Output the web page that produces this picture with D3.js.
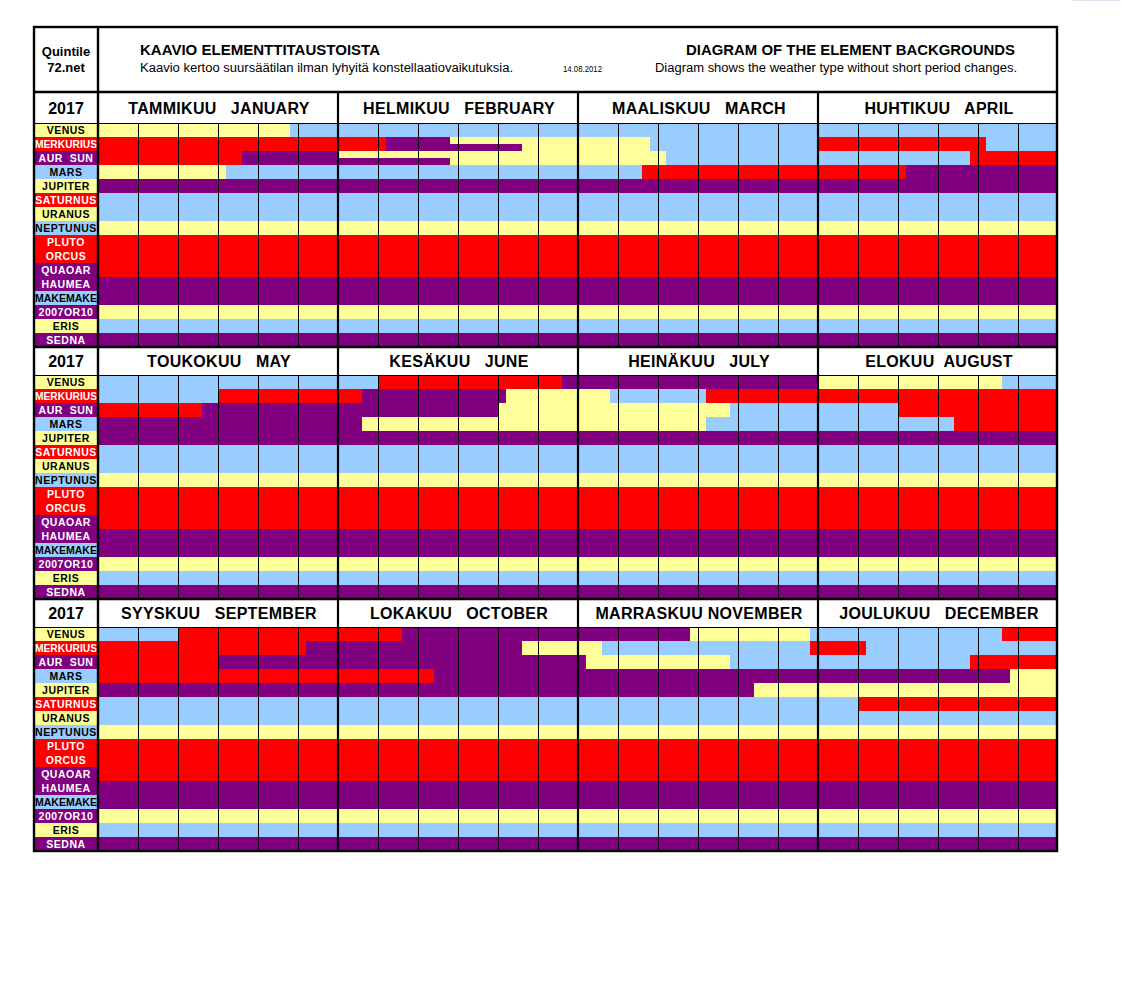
<!DOCTYPE html>
<html>
<head>
<meta charset="utf-8">
<script src="https://cdn.jsdelivr.net/npm/d3@7"></script>
<style>
  body { margin: 0; background: #fff; }
  svg { display: block; }
  text { font-family: "Liberation Sans", Arial, sans-serif; }
</style>
</head>
<body>
<svg id="chart" width="1122" height="1000"></svg>
<script>
// rows of the diagram
const planets = ['VENUS', 'MERKURIUS', 'AUR  SUN', 'MARS', 'JUPITER', 'SATURNUS', 'URANUS', 'NEPTUNUS',
    'PLUTO', 'ORCUS', 'QUAOAR', 'HAUMEA', 'MAKEMAKE', '2007OR10', 'ERIS', 'SEDNA'];
const planetElement = ['earth', 'fire', 'water', 'air', 'earth', 'fire', 'earth', 'air',
    'fire', 'fire', 'water', 'water', 'air', 'water', 'earth', 'water'];
const monthLabels = ['TAMMIKUU   JANUARY', 'HELMIKUU   FEBRUARY', 'MAALISKUU   MARCH', 'HUHTIKUU   APRIL',
    'TOUKOKUU   MAY', 'KESÄKUU   JUNE', 'HEINÄKUU   JULY', 'ELOKUU  AUGUST',
    'SYYSKUU   SEPTEMBER', 'LOKAKUU   OCTOBER', 'MARRASKUU NOVEMBER', 'JOULUKUU   DECEMBER'];
const yearLabel = '2017';

// element changes per planet: [month index, day of month (0-30), element from then on]
const venus = [[0, 0, 'earth'], [0, 24, 'air'], [5, 5, 'fire'], [5, 28, 'water'], [7, 0, 'earth'], [7, 23, 'air'],
    [8, 10, 'fire'], [9, 8, 'water'], [10, 14, 'earth'], [10, 29, 'air'], [11, 23, 'fire']];
const merkurius = [[0, 0, 'fire'], [1, 6, 'water'], [1, 14, 'earth'], [2, 9, 'air'], [3, 0, 'fire'], [3, 21, 'air'],
    [4, 15, 'fire'], [5, 3, 'water'], [5, 21, 'earth'], [6, 4, 'air'], [6, 16, 'fire'],
    [8, 26, 'water'], [9, 23, 'earth'], [10, 3, 'air'], [10, 29, 'fire'], [11, 6, 'air']];
const aurSun = [[0, 0, 'fire'], [0, 18, 'water'], [1, 0, 'earth'], [2, 11, 'air'], [3, 19, 'fire'],
    [4, 13, 'water'], [5, 20, 'earth'], [6, 19, 'air'], [7, 10, 'fire'],
    [8, 15, 'water'], [10, 1, 'earth'], [10, 19, 'air'], [11, 19, 'fire']];
const mars = [[0, 0, 'earth'], [0, 16, 'air'], [2, 8, 'fire'], [3, 11, 'water'], [5, 3, 'earth'], [6, 16, 'air'],
    [7, 17, 'fire'], [9, 12, 'water'], [11, 24, 'earth']];
const jupiter = [[0, 0, 'water'], [10, 22, 'earth']];
const saturnus = [[0, 0, 'air'], [11, 5, 'fire']];
const uranus = [[0, 0, 'air']];
const neptunus = [[0, 0, 'earth']];
const pluto = [[0, 0, 'fire']];
const orcus = [[0, 0, 'fire']];
const quaoar = [[0, 0, 'fire']];
const haumea = [[0, 0, 'water']];
const makemake = [[0, 0, 'water']];
const or10 = [[0, 0, 'earth']];
const eris = [[0, 0, 'air']];
const sedna = [[0, 0, 'water']];
const changes = [venus, merkurius, aurSun, mars, jupiter, saturnus, uranus, neptunus,
    pluto, orcus, quaoar, haumea, makemake, or10, eris, sedna];

// half-row exceptions (lower half of the row): planet, from [m, d], to [m, d], element
const lowerHalf = [['MERKURIUS', [1, 14], [1, 23], 'water'], ['AUR  SUN', [1, 0], [1, 14], 'water']];

const color = d3.scaleOrdinal()
    .domain(['earth', 'air', 'fire', 'water'])
    .range(['#FFFF99', '#99CCFF', '#FF0000', '#800080']);
const textColor = el => (el === 'fire' || el === 'water') ? '#fff' : '#000';

const svg = d3.select('#chart');
const left = 34, labelRight = 98, right = 1058, rowH = 14;
const blocks = [{top: 92, head: 31}, {top: 347, head: 28}, {top: 599, head: 28}];

const pos = (m, d) => m + d / 30;

// change lists -> segments
const segments = [];
changes.forEach((list, i) => {
    list.forEach((c, j) => {
        const next = list[j + 1];
        segments.push({
            planet: planets[i],
            from: pos(c[0], c[1]),
            to: next ? pos(next[0], next[1]) : 12,
            el: c[2],
            half: false
        });
    });
});
lowerHalf.forEach(h => segments.push({
    planet: h[0], from: pos(h[1][0], h[1][1]), to: pos(h[2][0], h[2][1]), el: h[3], half: true
}));

// top header
svg.append('rect').attr('x', 1073).attr('y', 0).attr('width', 48).attr('height', 1).attr('fill', '#dce6f2');
const head = svg.append('g');
head.append('rect').attr('x', left).attr('y', 27).attr('width', right - left - 1).attr('height', 65).attr('fill', '#fff');
head.append('text').attr('x', 66).attr('y', 56).attr('text-anchor', 'middle')
    .style('font-weight', 'bold').style('font-size', '13px').text('Quintile');
head.append('text').attr('x', 66).attr('y', 72).attr('text-anchor', 'middle')
    .style('font-weight', 'bold').style('font-size', '13px').text('72.net');
head.append('text').attr('x', 140).attr('y', 55)
    .style('font-weight', 'bold').style('font-size', '14px')
    .attr('textLength', 240).attr('lengthAdjust', 'spacingAndGlyphs')
    .text('KAAVIO ELEMENTTITAUSTOISTA');
head.append('text').attr('x', 140).attr('y', 72).style('font-size', '12px')
    .attr('textLength', 373).attr('lengthAdjust', 'spacingAndGlyphs')
    .text('Kaavio kertoo suursäätilan ilman lyhyitä konstellaatiovaikutuksia.');
head.append('text').attr('x', 563).attr('y', 72).style('font-size', '9px')
    .attr('textLength', 39).attr('lengthAdjust', 'spacingAndGlyphs').text('14.08.2012');
head.append('text').attr('x', 686).attr('y', 55)
    .style('font-weight', 'bold').style('font-size', '14px')
    .attr('textLength', 329).attr('lengthAdjust', 'spacingAndGlyphs')
    .text('DIAGRAM OF THE ELEMENT BACKGROUNDS');
head.append('text').attr('x', 655).attr('y', 72).style('font-size', '12px')
    .attr('textLength', 362).attr('lengthAdjust', 'spacingAndGlyphs')
    .text('Diagram shows the weather type without short period changes.');

blocks.forEach((b, bi) => {
    const rowTop = b.top + b.head;
    const x = d3.scaleLinear().domain([bi * 4, bi * 4 + 4]).range([labelRight, right]);
    const y = d3.scaleBand().domain(planets).range([rowTop, rowTop + planets.length * rowH]);
    const g = svg.append('g');

    // month header cells
    const months = d3.range(bi * 4, bi * 4 + 4);
    g.append('rect').attr('x', left).attr('y', b.top).attr('width', right - left).attr('height', b.head).attr('fill', '#fff');
    g.append('text').attr('x', (left + labelRight) / 2).attr('y', b.top + b.head / 2 + 6)
        .attr('text-anchor', 'middle').style('font-weight', 'bold').style('font-size', '16px').text(yearLabel);
    g.selectAll('.mlabel').data(months).join('text')
        .attr('x', m => x(m + 0.5) + 1).attr('y', b.top + b.head / 2 + 6)
        .attr('text-anchor', 'middle').style('font-weight', 'bold').style('font-size', '16px')
        .style('letter-spacing', '0.3px').style('white-space', 'pre')
        .text(m => monthLabels[m]);

    // element bars
    const blockSegs = segments
        .map(s => Object.assign({}, s, {a: Math.max(s.from, bi * 4), c: Math.min(s.to, bi * 4 + 4)}))
        .filter(s => s.c > s.a);
    g.selectAll('.seg').data(blockSegs.filter(s => !s.half)).join('rect')
        .attr('x', s => x(s.a)).attr('width', s => x(s.c) - x(s.a))
        .attr('y', s => y(s.planet)).attr('height', y.bandwidth())
        .attr('fill', s => color(s.el));
    g.selectAll('.half').data(blockSegs.filter(s => s.half)).join('rect')
        .attr('x', s => x(s.a)).attr('width', s => x(s.c) - x(s.a))
        .attr('y', s => y(s.planet) + y.bandwidth() / 2).attr('height', y.bandwidth() / 2)
        .attr('fill', s => color(s.el));

    // planet labels
    g.selectAll('.lab').data(planets).join('rect')
        .attr('x', left).attr('width', labelRight - left)
        .attr('y', p => y(p)).attr('height', y.bandwidth())
        .attr('fill', (p, i) => color(planetElement[i]));
    g.selectAll('.labt').data(planets).join('text')
        .attr('x', (left + labelRight) / 2).attr('y', p => y(p) + y.bandwidth() / 2 + 3.8)
        .attr('text-anchor', 'middle')
        .style('font-weight', 'bold').style('font-size', '10.5px').style('letter-spacing', '0.5px')
        .style('white-space', 'pre')
        .attr('fill', (p, i) => textColor(planetElement[i]))
        .text(p => p)
        .each(function () {
            if (this.getComputedTextLength() > 62) {
                d3.select(this).style('letter-spacing', null)
                    .attr('textLength', 62).attr('lengthAdjust', 'spacingAndGlyphs');
            }
        });

    // grid: thin lines every 5 days, thick at month boundaries
    const thin = d3.range(1, 24).filter(k => k % 6 !== 0).map(k => bi * 4 + k / 6);
    g.selectAll('.thin').data(thin).join('line')
        .attr('x1', v => x(v)).attr('x2', v => x(v))
        .attr('y1', rowTop).attr('y2', rowTop + planets.length * rowH)
        .attr('stroke', '#000').attr('stroke-width', 1).attr('shape-rendering', 'crispEdges');
    g.selectAll('.thick').data(d3.range(bi * 4 + 1, bi * 4 + 4)).join('line')
        .attr('x1', v => x(v)).attr('x2', v => x(v))
        .attr('y1', b.top).attr('y2', rowTop + planets.length * rowH)
        .attr('stroke', '#000').attr('stroke-width', 2.2);
    g.append('line').attr('x1', left).attr('x2', right).attr('y1', rowTop + 0.5).attr('y2', rowTop + 0.5)
        .attr('stroke', '#000').attr('stroke-width', 1);
    g.append('line').attr('x1', left).attr('x2', right).attr('y1', b.top).attr('y2', b.top)
        .attr('stroke', '#000').attr('stroke-width', 2.4);
});

// frame
svg.append('line').attr('x1', labelRight).attr('x2', labelRight).attr('y1', 27).attr('y2', 851)
    .attr('stroke', '#000').attr('stroke-width', 2.4);
svg.append('rect').attr('x', left).attr('y', 27).attr('width', right - left - 1).attr('height', 824)
    .attr('fill', 'none').attr('stroke', '#000').attr('stroke-width', 2.4);
</script>
</body>
</html>
